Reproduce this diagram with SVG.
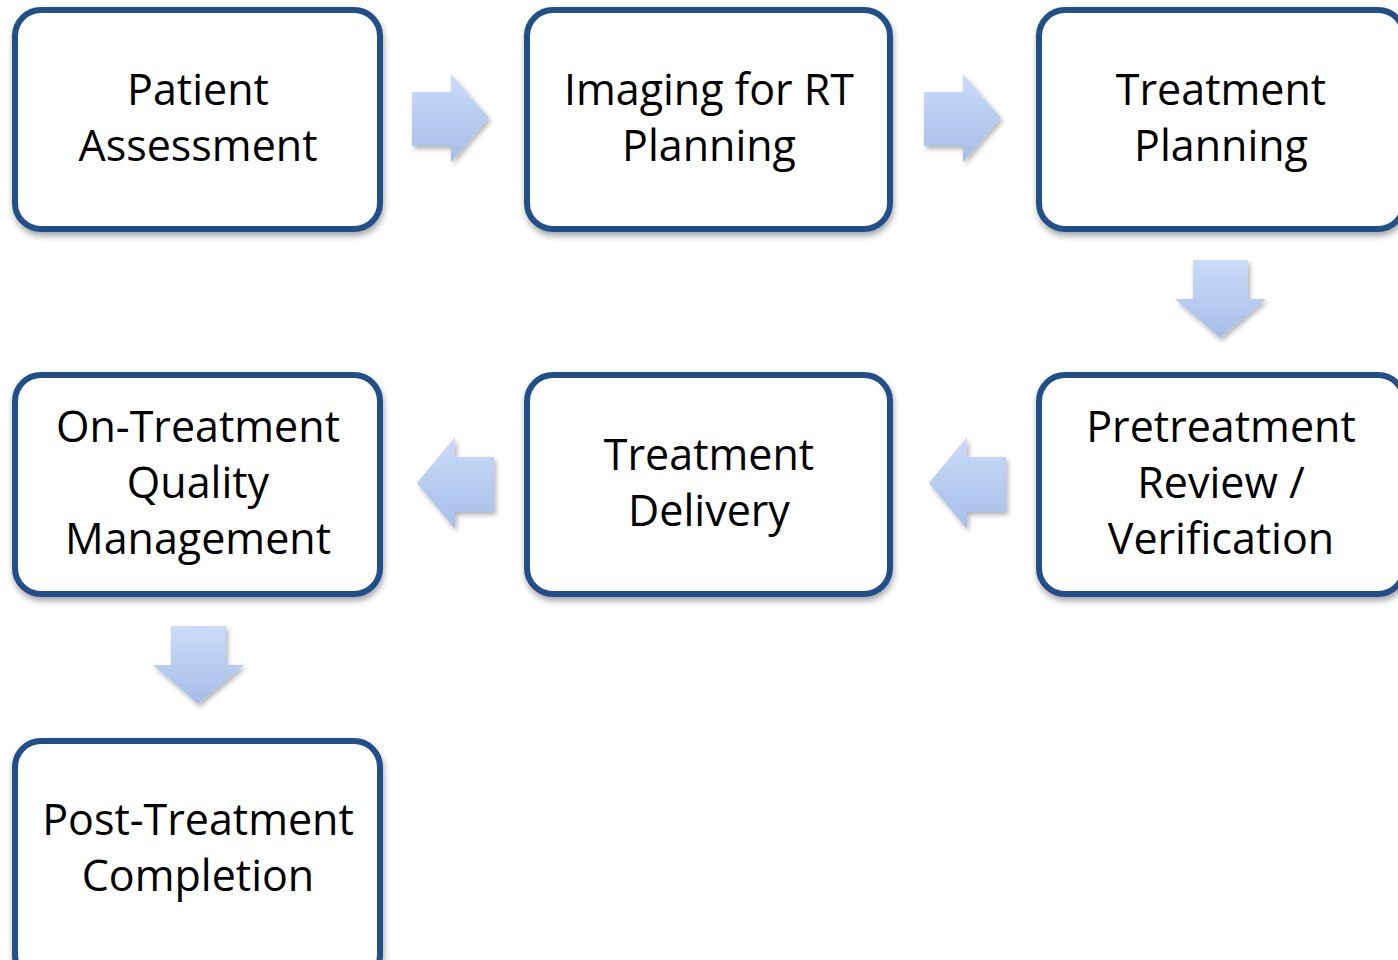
<svg xmlns="http://www.w3.org/2000/svg" width="1398" height="960" viewBox="0 0 1398 960">
  <defs>
    <style>
      .box { fill: #ffffff; stroke: #24508a; stroke-width: 6; filter: url(#boxShadow); }
      .label { font-family: "Open Sans", "Liberation Sans", Arial, sans-serif; font-size: 43px; fill: #000000; text-anchor: middle; }
      .arrow-h { fill: url(#arrowGradV); filter: url(#arrowShadow); }
      .arrow-v { fill: url(#arrowGradV); filter: url(#arrowShadow); }
    </style>
    <linearGradient id="arrowGradV" x1="0" y1="0" x2="0" y2="1">
      <stop offset="0" stop-color="#cadcfa"/>
      <stop offset="1" stop-color="#a6bde6"/>
    </linearGradient>
    <filter id="boxShadow" x="-10%" y="-10%" width="120%" height="125%">
      <feGaussianBlur in="SourceAlpha" stdDeviation="3"/>
      <feOffset dx="1" dy="4" result="b"/>
      <feComponentTransfer><feFuncA type="linear" slope="0.35"/></feComponentTransfer>
      <feMerge><feMergeNode/><feMergeNode in="SourceGraphic"/></feMerge>
    </filter>
    <filter id="arrowShadow" x="-20%" y="-20%" width="150%" height="150%">
      <feGaussianBlur in="SourceAlpha" stdDeviation="2.5"/>
      <feOffset dx="2" dy="3" result="b"/>
      <feComponentTransfer><feFuncA type="linear" slope="0.3"/></feComponentTransfer>
      <feMerge><feMergeNode/><feMergeNode in="SourceGraphic"/></feMerge>
    </filter>
  </defs>

  <!-- block arrows between steps -->
  <g id="connectors">
    <polygon class="arrow-h" points="412,92 451,92 451,74 489,118 451,162 451,146 412,146"/>
    <polygon class="arrow-h" points="924,92 963,92 963,74 1001,118 963,162 963,146 924,146"/>
    <polygon class="arrow-v" points="1193,260 1248,260 1248,299 1266,299 1220,338 1175,299 1193,299"/>
    <polygon class="arrow-h" points="1006,457 1006,512 967,512 967,529 929,483 967,437 967,457"/>
    <polygon class="arrow-h" points="494,457 494,512 455,512 455,529 417,483 455,437 455,457"/>
    <polygon class="arrow-v" points="171,626 226,626 226,665 244,665 198,704 153,665 171,665"/>
  </g>

  <g id="patient-assessment">
    <rect class="box" x="15" y="10" width="365" height="219" rx="26"/>
    <text class="label" x="198" y="105">Patient</text>
    <text class="label" x="198" y="161">Assessment</text>
  </g>

  <g id="imaging-rt-planning">
    <rect class="box" x="527" y="10" width="363" height="219" rx="26"/>
    <text class="label" x="709" y="105">Imaging for RT</text>
    <text class="label" x="709" y="161">Planning</text>
  </g>

  <g id="treatment-planning">
    <rect class="box" x="1039" y="10" width="365" height="219" rx="26"/>
    <text class="label" x="1221" y="105">Treatment</text>
    <text class="label" x="1221" y="161">Planning</text>
  </g>

  <g id="pretreatment-review">
    <rect class="box" x="1039" y="375" width="365" height="219" rx="26"/>
    <text class="label" x="1221" y="442">Pretreatment</text>
    <text class="label" x="1221" y="498">Review /</text>
    <text class="label" x="1221" y="554">Verification</text>
  </g>

  <g id="treatment-delivery">
    <rect class="box" x="527" y="375" width="363" height="219" rx="26"/>
    <text class="label" x="709" y="470">Treatment</text>
    <text class="label" x="709" y="526">Delivery</text>
  </g>

  <g id="on-treatment-qm">
    <rect class="box" x="15" y="375" width="365" height="219" rx="26"/>
    <text class="label" x="198" y="442">On-Treatment</text>
    <text class="label" x="198" y="498">Quality</text>
    <text class="label" x="198" y="554">Management</text>
  </g>

  <g id="post-treatment">
    <rect class="box" x="15" y="741" width="365" height="240" rx="26"/>
    <text class="label" x="198" y="835">Post-Treatment</text>
    <text class="label" x="198" y="891">Completion</text>
  </g>
</svg>
